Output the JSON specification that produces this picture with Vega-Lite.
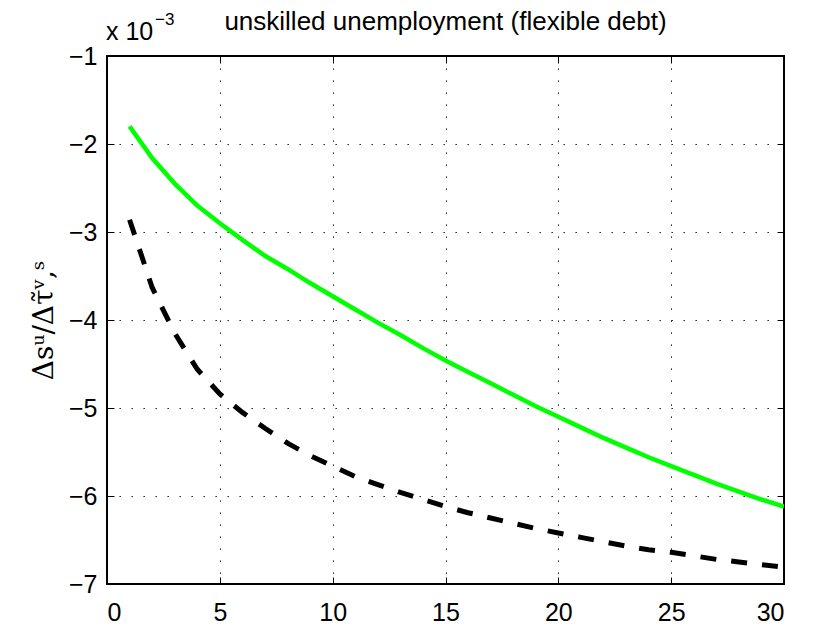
{
  "$schema": "https://vega.github.io/schema/vega-lite/v6.json",
  "width": 677,
  "height": 528,
  "autosize": "none",
  "padding": {"left": 107, "top": 56, "right": 43, "bottom": 44},
  "background": "white",
  "title": {
    "text": "unskilled unemployment (flexible debt)",
    "font": "Liberation Sans",
    "fontSize": 26,
    "fontWeight": "normal",
    "color": "black",
    "anchor": "middle",
    "offset": -24
  },
  "config": {
    "view": {"stroke": "black", "strokeWidth": 2},
    "axis": {
      "labelFont": "Liberation Sans",
      "labelFontSize": 25,
      "labelColor": "black",
      "tickColor": "black",
      "domain": false,
      "gridColor": "black",
      "gridOpacity": 1,
      "gridWidth": 1,
      "gridDash": [1.3, 10.7]
    }
  },
  "datasets": {
    "green": [
      {"t": 1, "ds": -0.00180}, {"t": 2, "ds": -0.00216}, {"t": 3, "ds": -0.00245},
      {"t": 4, "ds": -0.00270}, {"t": 5, "ds": -0.00290}, {"t": 6, "ds": -0.00309},
      {"t": 7, "ds": -0.00327}, {"t": 8, "ds": -0.00342}, {"t": 9, "ds": -0.00358},
      {"t": 10, "ds": -0.00373}, {"t": 11, "ds": -0.00388}, {"t": 12, "ds": -0.00403},
      {"t": 13, "ds": -0.00417}, {"t": 14, "ds": -0.00432}, {"t": 15, "ds": -0.00446},
      {"t": 16, "ds": -0.00459}, {"t": 17, "ds": -0.00472}, {"t": 18, "ds": -0.00485},
      {"t": 19, "ds": -0.00498}, {"t": 20, "ds": -0.00510}, {"t": 21, "ds": -0.00522},
      {"t": 22, "ds": -0.00534}, {"t": 23, "ds": -0.00545}, {"t": 24, "ds": -0.00556},
      {"t": 25, "ds": -0.00566}, {"t": 26, "ds": -0.00576}, {"t": 27, "ds": -0.00586},
      {"t": 28, "ds": -0.00595}, {"t": 29, "ds": -0.00604}, {"t": 30, "ds": -0.00612}
    ],
    "dashed": [
      {"t": 1, "ds": -0.00286}, {"t": 2, "ds": -0.00363}, {"t": 3, "ds": -0.00415},
      {"t": 4, "ds": -0.00456}, {"t": 5, "ds": -0.00484}, {"t": 6, "ds": -0.00505},
      {"t": 7, "ds": -0.00523}, {"t": 8, "ds": -0.00540}, {"t": 9, "ds": -0.00554},
      {"t": 10, "ds": -0.00566}, {"t": 11, "ds": -0.00578}, {"t": 12, "ds": -0.00587},
      {"t": 13, "ds": -0.00596}, {"t": 14, "ds": -0.00604}, {"t": 15, "ds": -0.00612},
      {"t": 16, "ds": -0.00619}, {"t": 17, "ds": -0.00625}, {"t": 18, "ds": -0.00631},
      {"t": 19, "ds": -0.00637}, {"t": 20, "ds": -0.00642}, {"t": 21, "ds": -0.00647},
      {"t": 22, "ds": -0.00652}, {"t": 23, "ds": -0.00657}, {"t": 24, "ds": -0.00661},
      {"t": 25, "ds": -0.00664}, {"t": 26, "ds": -0.00668}, {"t": 27, "ds": -0.00672},
      {"t": 28, "ds": -0.00675}, {"t": 29, "ds": -0.00678}, {"t": 30, "ds": -0.00681}
    ],
    "note": [{"label": "x 10", "exp": "−3"}]
  },
  "layer": [
    {
      "data": {"name": "green"},
      "mark": {"type": "line", "color": "#00ff00", "strokeWidth": 4.5, "clip": true},
      "encoding": {
        "x": {
          "field": "t", "type": "quantitative",
          "scale": {"domain": [0, 30], "nice": false, "zero": false},
          "axis": {
            "orient": "bottom", "title": null,
            "values": [0, 5, 10, 15, 20, 25, 30],
            "tickSize": -7, "labelPadding": 23, "grid": true,
            "labelExpr": "format(datum.value, 'd')"
          }
        },
        "y": {
          "field": "ds", "type": "quantitative",
          "scale": {"domain": [-0.007, -0.001], "nice": false, "zero": false},
          "axis": {
            "orient": "left",
            "values": [-0.007, -0.006, -0.005, -0.004, -0.003, -0.002, -0.001],
            "tickSize": -7, "labelPadding": 17, "grid": true,
            "labelExpr": "replace(format(datum.value * 1000, '.0f'), '-', '−')",
            "title": "Δsᵘ/Δτ̃ᵛ,ˢ",
            "titleFont": "DejaVu Serif",
            "titleFontSize": 28,
            "titleFontWeight": "normal",
            "titleColor": "black",
            "titlePadding": 10
          }
        }
      }
    },
    {
      "data": {"name": "dashed"},
      "mark": {"type": "line", "color": "black", "strokeWidth": 5, "strokeDash": [16, 15], "clip": true},
      "encoding": {
        "x": {
          "field": "t", "type": "quantitative",
          "axis": {
            "orient": "top", "title": null, "labels": false, "grid": false,
            "values": [0, 5, 10, 15, 20, 25, 30], "tickSize": -7
          }
        },
        "y": {
          "field": "ds", "type": "quantitative",
          "axis": {
            "orient": "right", "title": null, "labels": false, "grid": false,
            "values": [-0.007, -0.006, -0.005, -0.004, -0.003, -0.002, -0.001], "tickSize": -7
          }
        }
      }
    },
    {
      "data": {"name": "note"},
      "mark": {"type": "text", "align": "left", "baseline": "alphabetic", "font": "Liberation Sans", "fontSize": 25, "color": "black", "dy": -16, "dx": -1},
      "encoding": {
        "x": {"datum": 0, "type": "quantitative", "axis": null},
        "y": {"datum": -0.001, "type": "quantitative", "axis": null},
        "text": {"field": "label"}
      }
    },
    {
      "data": {"name": "note"},
      "mark": {"type": "text", "align": "left", "baseline": "alphabetic", "font": "Liberation Sans", "fontSize": 17, "color": "black", "dy": -31, "dx": 48},
      "encoding": {
        "x": {"datum": 0, "type": "quantitative", "axis": null},
        "y": {"datum": -0.001, "type": "quantitative", "axis": null},
        "text": {"field": "exp"}
      }
    }
  ],
  "resolve": {"axis": {"x": "independent", "y": "independent"}}
}
